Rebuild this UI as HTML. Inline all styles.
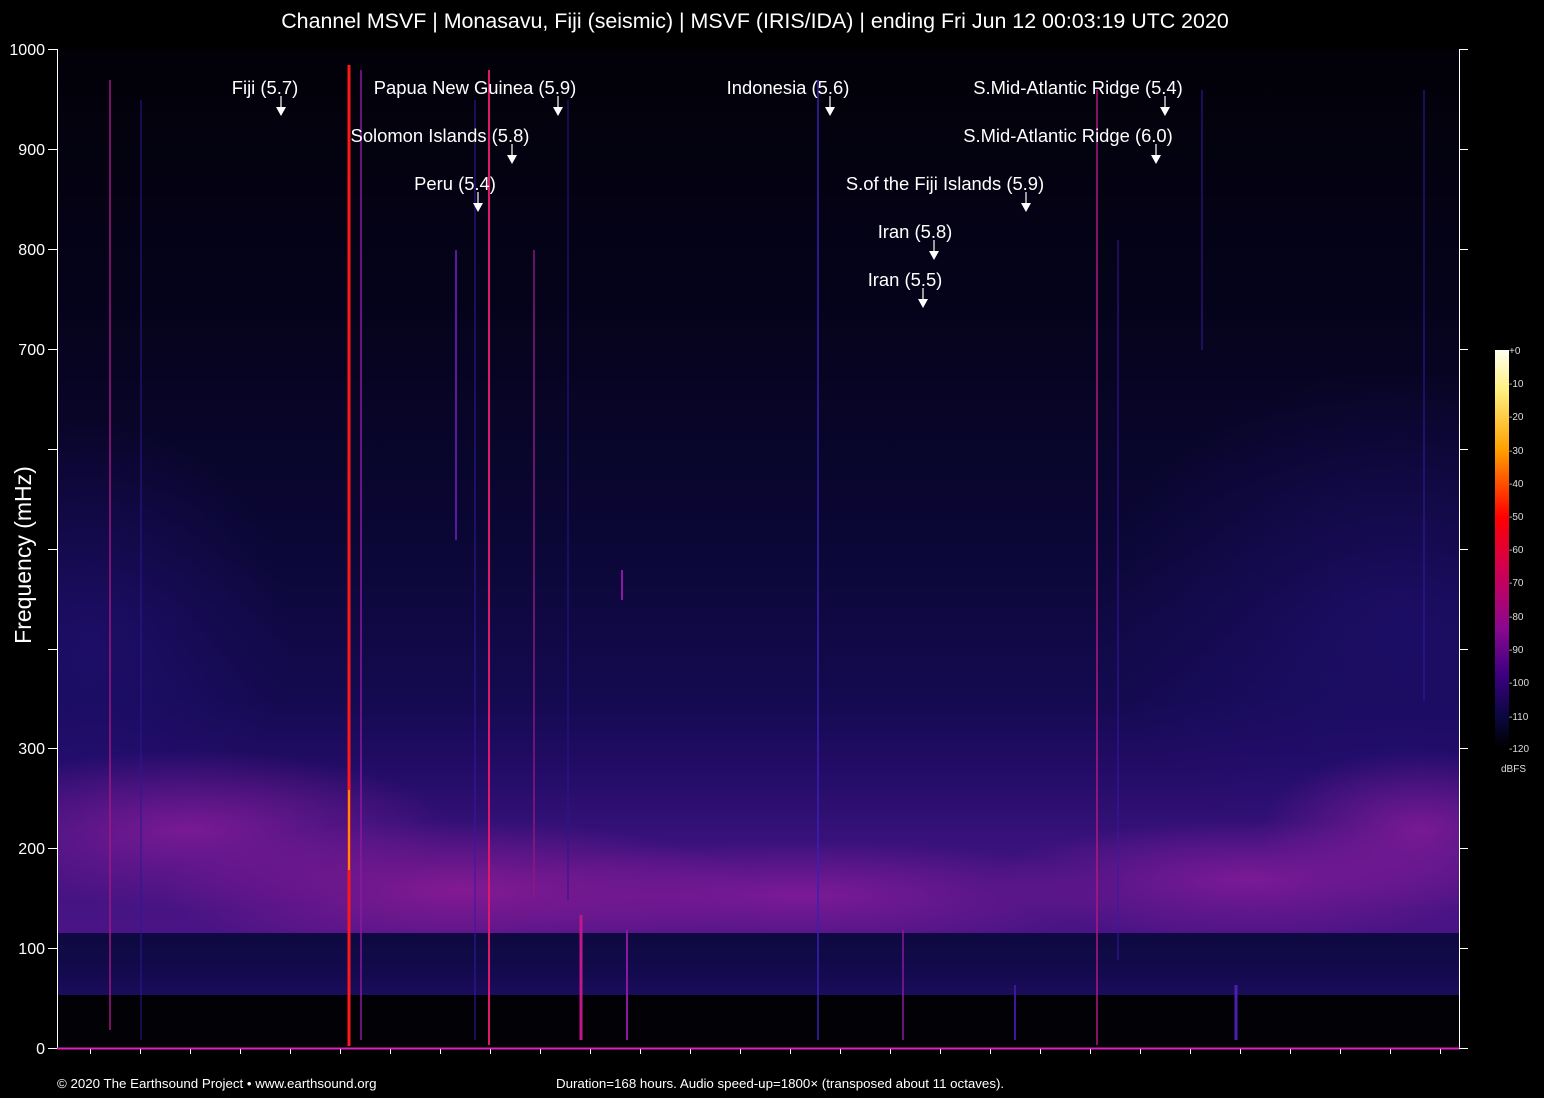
<!DOCTYPE html>
<html><head><meta charset="utf-8"><style>
html,body{margin:0;padding:0;background:#000;}
svg{display:block;font-family:"Liberation Sans",sans-serif;}
</style></head><body>
<svg width="1544" height="1098" viewBox="0 0 1544 1098" xmlns="http://www.w3.org/2000/svg">
<defs>
<linearGradient id="bg" x1="0" y1="49" x2="0" y2="1048" gradientUnits="userSpaceOnUse">
<stop offset="0" stop-color="#020108"/>
<stop offset="0.25" stop-color="#05031a"/>
<stop offset="0.5" stop-color="#0b0736"/>
<stop offset="0.65" stop-color="#140a50"/>
<stop offset="0.72" stop-color="#220c66"/>
<stop offset="0.8" stop-color="#3a127c"/>
<stop offset="0.88" stop-color="#4a1486"/>
<stop offset="1" stop-color="#4a1486"/>
</linearGradient>
<radialGradient id="m1"><stop offset="0" stop-color="#8a1c9a" stop-opacity="0.8"/><stop offset="1" stop-color="#8a1c9a" stop-opacity="0"/></radialGradient>
<radialGradient id="m2"><stop offset="0" stop-color="#9a1c98" stop-opacity="0.75"/><stop offset="1" stop-color="#9a1c98" stop-opacity="0"/></radialGradient>
<radialGradient id="b1"><stop offset="0" stop-color="#2a1288" stop-opacity="0.5"/><stop offset="1" stop-color="#2a1288" stop-opacity="0"/></radialGradient>
<linearGradient id="dk" x1="0" y1="0" x2="0" y2="1">
<stop offset="0" stop-color="#0e0940"/><stop offset="0.6" stop-color="#120a4c"/><stop offset="1" stop-color="#1c0c5c"/>
</linearGradient>
<linearGradient id="cb" x1="0" y1="0" x2="0" y2="1">
<stop offset="0" stop-color="#fffff0"/>
<stop offset="0.1" stop-color="#fff080"/>
<stop offset="0.25" stop-color="#ffa000"/>
<stop offset="0.42" stop-color="#ff0000"/>
<stop offset="0.55" stop-color="#d00050"/>
<stop offset="0.7" stop-color="#8a0890"/>
<stop offset="0.82" stop-color="#3a0080"/>
<stop offset="0.92" stop-color="#0a0840"/>
<stop offset="1" stop-color="#000000"/>
</linearGradient>
<clipPath id="pc"><rect x="57" y="49" width="1402" height="999"/></clipPath>
</defs>
<rect width="1544" height="1098" fill="#000"/>
<g clip-path="url(#pc)">
<rect x="57" y="49" width="1402" height="999" fill="url(#bg)"/>
<ellipse cx="1400" cy="620" rx="300" ry="250" fill="url(#b1)"/>
<ellipse cx="90" cy="640" rx="200" ry="220" fill="url(#b1)"/>
<ellipse cx="190" cy="830" rx="260" ry="80" fill="url(#m1)"/>
<ellipse cx="460" cy="890" rx="300" ry="70" fill="url(#m2)"/>
<ellipse cx="800" cy="895" rx="320" ry="55" fill="url(#m1)"/>
<ellipse cx="1250" cy="880" rx="260" ry="60" fill="url(#m1)"/>
<ellipse cx="1420" cy="830" rx="160" ry="80" fill="url(#m1)"/>
<!-- dark band -->
<rect x="57" y="933" width="1402" height="62" fill="url(#dk)"/>
<rect x="57" y="995" width="1402" height="53" fill="#020106"/>
<!-- vertical lines -->
<line x1="110" y1="80" x2="110" y2="1030" stroke="#a01880" stroke-width="1.5"/>
<line x1="141" y1="100" x2="141" y2="1040" stroke="#2a1890" stroke-width="1"/>
<line x1="349" y1="65" x2="349" y2="1046" stroke="#ff1818" stroke-width="3"/>
<line x1="349" y1="790" x2="349" y2="870" stroke="#ffb000" stroke-width="1.5"/>
<line x1="361" y1="70" x2="361" y2="1040" stroke="#8a18a0" stroke-width="1.5"/>
<line x1="456" y1="250" x2="456" y2="540" stroke="#5a1aa0" stroke-width="2"/>
<line x1="475" y1="100" x2="475" y2="1040" stroke="#3a16a0" stroke-width="1"/>
<line x1="489" y1="70" x2="489" y2="1045" stroke="#e0186a" stroke-width="2"/>
<line x1="534" y1="250" x2="534" y2="900" stroke="#8a1880" stroke-width="1.5"/>
<line x1="568" y1="100" x2="568" y2="900" stroke="#2a1690" stroke-width="1"/>
<line x1="581" y1="915" x2="581" y2="1040" stroke="#c01888" stroke-width="3"/>
<line x1="627" y1="930" x2="627" y2="1040" stroke="#8a18a0" stroke-width="2"/>
<line x1="622" y1="570" x2="622" y2="600" stroke="#8a18a0" stroke-width="2"/>
<line x1="818" y1="80" x2="818" y2="1040" stroke="#3a20b0" stroke-width="1.5"/>
<line x1="903" y1="930" x2="903" y2="1040" stroke="#8a18a0" stroke-width="1.5"/>
<line x1="1097" y1="90" x2="1097" y2="1045" stroke="#b01880" stroke-width="1.5"/>
<line x1="1118" y1="240" x2="1118" y2="960" stroke="#3a18a0" stroke-width="1"/>
<line x1="1202" y1="90" x2="1202" y2="350" stroke="#3a18a0" stroke-width="1"/>
<line x1="1424" y1="90" x2="1424" y2="700" stroke="#3a18a0" stroke-width="1"/>
<line x1="1236" y1="985" x2="1236" y2="1040" stroke="#4a20b0" stroke-width="3"/>
<line x1="1015" y1="985" x2="1015" y2="1040" stroke="#3a18a0" stroke-width="2"/>
</g>
<!-- axes -->
<g stroke="#fff" stroke-width="1" fill="none">
<line x1="57.5" y1="49" x2="57.5" y2="1049"/>
<line x1="1459.5" y1="49" x2="1459.5" y2="1049"/>
<line x1="57" y1="1048.5" x2="1460" y2="1048.5" stroke="#e020c0" stroke-width="2"/>
<path d="M48,49.5H57M48,149.5H57M48,249.5H57M48,349.5H57M48,449.5H57M48,549.5H57M48,649.5H57M48,748.5H57M48,848.5H57M48,948.5H57M48,1048.5H57"/>
<path d="M1459,49.5H1468M1459,149.5H1468M1459,249.5H1468M1459,349.5H1468M1459,449.5H1468M1459,549.5H1468M1459,649.5H1468M1459,748.5H1468M1459,848.5H1468M1459,948.5H1468M1459,1048.5H1468"/>
<path d="M90.5,1049v5M140.5,1049v5M190.5,1049v5M240.5,1049v5M290.5,1049v5M340.5,1049v5M390.5,1049v5M440.5,1049v5M490.5,1049v5M540.5,1049v5M590.5,1049v5M640.5,1049v5M690.5,1049v5M740.5,1049v5M790.5,1049v5M840.5,1049v5M890.5,1049v5M940.5,1049v5M990.5,1049v5M1040.5,1049v5M1090.5,1049v5M1140.5,1049v5M1190.5,1049v5M1240.5,1049v5M1290.5,1049v5M1340.5,1049v5M1390.5,1049v5M1440.5,1049v5"/>
</g>
<g fill="#fff" font-size="16" text-anchor="end">
<text x="45" y="55">1000</text><text x="45" y="155">900</text><text x="45" y="255">800</text><text x="45" y="355">700</text>
<text x="45" y="754">300</text><text x="45" y="854">200</text><text x="45" y="954">100</text><text x="45" y="1054">0</text>
</g>
<text transform="translate(31,555) rotate(-90)" fill="#fff" font-size="23" text-anchor="middle">Frequency (mHz)</text>
<text x="755" y="28" fill="#fff" font-size="21.4" text-anchor="middle">Channel MSVF | Monasavu, Fiji (seismic) | MSVF (IRIS/IDA) | ending Fri Jun 12 00:03:19 UTC 2020</text>
<text x="57" y="1088" fill="#fff" font-size="13.3">© 2020 The Earthsound Project • www.earthsound.org</text>
<text x="556" y="1088" fill="#fff" font-size="13.3">Duration=168 hours. Audio speed-up=1800× (transposed about 11 octaves).</text>
<!-- annotations -->
<g fill="#fff" font-size="18.4" text-anchor="middle">
<text x="265" y="94">Fiji (5.7)</text>
<text x="475" y="94">Papua New Guinea (5.9)</text>
<text x="440" y="142">Solomon Islands (5.8)</text>
<text x="455" y="190">Peru (5.4)</text>
<text x="788" y="94">Indonesia (5.6)</text>
<text x="1078" y="94">S.Mid-Atlantic Ridge (5.4)</text>
<text x="1068" y="142">S.Mid-Atlantic Ridge (6.0)</text>
<text x="945" y="190">S.of the Fiji Islands (5.9)</text>
<text x="915" y="238">Iran (5.8)</text>
<text x="905" y="286">Iran (5.5)</text>
</g>
<g stroke="#fff" stroke-width="1.2" fill="#fff">
<line x1="281" y1="96" x2="281" y2="108"/><path d="M276,107h10l-5,9z" stroke="none"/>
<line x1="558" y1="96" x2="558" y2="108"/><path d="M553,107h10l-5,9z" stroke="none"/>
<line x1="512" y1="144" x2="512" y2="156"/><path d="M507,155h10l-5,9z" stroke="none"/>
<line x1="478" y1="192" x2="478" y2="204"/><path d="M473,203h10l-5,9z" stroke="none"/>
<line x1="830" y1="96" x2="830" y2="108"/><path d="M825,107h10l-5,9z" stroke="none"/>
<line x1="1165" y1="96" x2="1165" y2="108"/><path d="M1160,107h10l-5,9z" stroke="none"/>
<line x1="1156" y1="144" x2="1156" y2="156"/><path d="M1151,155h10l-5,9z" stroke="none"/>
<line x1="1026" y1="192" x2="1026" y2="204"/><path d="M1021,203h10l-5,9z" stroke="none"/>
<line x1="934" y1="240" x2="934" y2="252"/><path d="M929,251h10l-5,9z" stroke="none"/>
<line x1="923" y1="288" x2="923" y2="300"/><path d="M918,299h10l-5,9z" stroke="none"/>
</g>
<!-- colorbar -->
<rect x="1495" y="350" width="14" height="398" fill="url(#cb)"/>
<g fill="#ddd" font-size="10">
<text x="1509" y="354">+0</text><text x="1509" y="387">-10</text><text x="1509" y="420">-20</text><text x="1509" y="454">-30</text>
<text x="1509" y="487">-40</text><text x="1509" y="520">-50</text><text x="1509" y="553">-60</text><text x="1509" y="586">-70</text>
<text x="1509" y="620">-80</text><text x="1509" y="653">-90</text><text x="1509" y="686">-100</text><text x="1509" y="720">-110</text>
<text x="1509" y="752">-120</text><text x="1501" y="772">dBFS</text>
</g>
</svg>
</body></html>
